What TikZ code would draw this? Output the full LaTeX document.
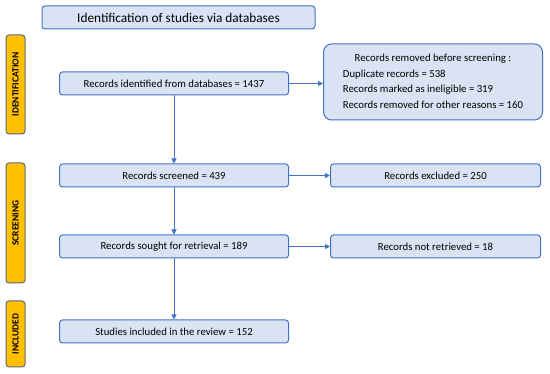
\documentclass[tikz,border=0pt]{standalone}
\usepackage{fontspec}
\setmainfont{Carlito}
\usepackage{xcolor}
\usetikzlibrary{positioning,arrows.meta}

\definecolor{boxblue}{RGB}{218,227,243}
\definecolor{lineblue}{RGB}{68,114,196}
\definecolor{phasegold}{RGB}{255,192,0}
\definecolor{phaseedge}{RGB}{96,104,122}

\begin{document}
\begin{tikzpicture}[x=1pt,y=-1pt,
		flowbox/.style={draw=lineblue,fill=boxblue,rounded corners=3pt,line width=1pt,
			minimum width=229pt,minimum height=23pt,inner sep=0pt,
			font=\fontsize{10.75}{13}\selectfont},
		sidebox/.style={draw=lineblue,fill=boxblue,rounded corners=3pt,line width=1pt,
			minimum width=210pt,minimum height=23pt,inner sep=0pt,
			font=\fontsize{10.75}{13}\selectfont},
		phase/.style={draw=phaseedge,fill=phasegold,rounded corners=3pt,line width=1pt,
			rotate=90,minimum height=19pt,inner sep=0pt,
			font=\bfseries\fontsize{9.5}{11}\selectfont},
		flow/.style={draw=lineblue,line width=1pt,-{Triangle[length=5pt,width=5pt]}}]
		
		\useasboundingbox[fill=white] (0,0) rectangle (550,374);
		
		\node[draw=lineblue,fill=boxblue,rounded corners=3pt,line width=1pt,
			minimum width=273pt,minimum height=23pt,inner sep=0pt,
			font=\fontsize{13.3}{15}\selectfont] (title) at (178.5,17.5)
		{Identification of studies via databases};
		
		\node[phase,minimum width=99pt] (identification) at (15.5,84.5) {IDENTIFICATION};
		\node[phase,minimum width=120pt] (screening) at (15.5,223) {SCREENING};
		\node[phase,minimum width=66pt] (included) at (15.5,334) {INCLUDED};
		
		\node[flowbox] (identified) at (174,83.5)
		{Records identified from databases = 1437};
		
		\node[draw=lineblue,fill=boxblue,rounded corners=8pt,line width=1pt,
			minimum width=219pt,minimum height=76pt,inner sep=0pt,
			font=\fontsize{10.75}{15.5}\selectfont] (removed)
		[right=34pt of identified,yshift=1.5pt]
		{\begin{tabular}{@{}l@{}}
				\multicolumn{1}{@{}c@{}}{Records removed before screening :}\\
				Duplicate records = 538\\
				Records marked as ineligible = 319\\
				Records removed for other reasons = 160
		\end{tabular}};
		
		\node[flowbox] (screened)
		[below=68pt of identified]
		{Records screened = 439};
		
		\node[sidebox] (excluded)
		[right=41pt of screened]
		{Records excluded = 250};
		
		\node[flowbox] (sought)
		[below=47pt of screened]
		{Records sought for retrieval = 189};
		
		\node[sidebox] (notretrieved)
		[right=41pt of sought]
		{Records not retrieved = 18};
		
		\node[flowbox] (studies)
		[below=61pt of sought]
		{Studies included in the review = 152};
		
		\draw[flow] (identified.east) -- (identified.east -| removed.west);
		\draw[flow] (identified) -- (screened);
		\draw[flow] (screened) -- (excluded);
		\draw[flow] (screened) -- (sought);
		\draw[flow] (sought) -- (notretrieved);
		\draw[flow] (sought) -- (studies);
		
	\end{tikzpicture}
\end{document}
